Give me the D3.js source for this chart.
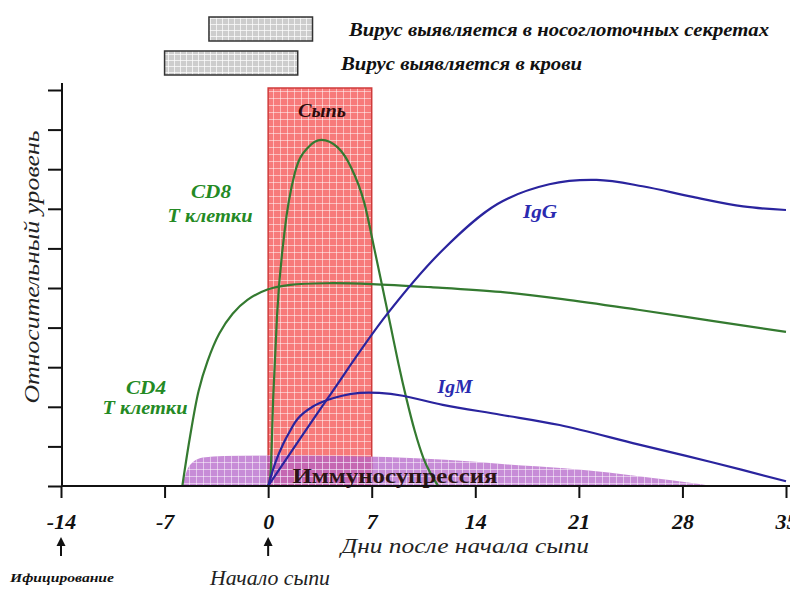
<!DOCTYPE html>
<html>
<head>
<meta charset="utf-8">
<script src="https://cdn.jsdelivr.net/npm/d3@7"></script>
<style>
  body { margin: 0; background: #fff; }
</style>
</head>
<body>
<div id="chart"></div>
<script>
// days after rash onset
const xTicks = [-14, -7, 0, 7, 14, 21, 28, 35]
const yTicks = [0, 1, 2, 3, 4, 5, 6, 7, 8, 9, 10]

// [day, relative level]
const cd8 = [[0, 0], [0.15, 0.25], [0.35, 2.3], [0.6, 4.3], [1.1, 6.4], [1.8, 7.9], [2.7, 8.55], [3.6, 8.74],
  [4.7, 8.55], [5.6, 8.05], [6.5, 7.15], [7.2, 5.95], [7.85, 4.8], [8.3, 4.0], [8.8, 3.1], [9.35, 2.2],
  [9.9, 1.4], [10.5, 0.7], [11.0, 0.3], [11.5, 0]]
const cd4 = [[-5.8, 0], [-5.3, 1.2], [-4.7, 2.4], [-4.1, 3.15], [-3.3, 3.85], [-2.4, 4.35], [-1.4, 4.7],
  [0, 4.97], [1.5, 5.08], [4, 5.12], [7, 5.1], [11, 5.02], [15.7, 4.9], [19.9, 4.72], [25, 4.45],
  [30, 4.17], [35, 3.89]]
const igg = [[0, 0], [4, 2.2], [8, 4.32], [11.8, 5.96], [15.5, 7.12], [19, 7.62], [22.2, 7.73],
  [25.3, 7.57], [28.7, 7.3], [32.1, 7.06], [35, 6.97]]
const igm = [[0, 0], [0.5, 0.6], [1, 1.05], [1.5, 1.4], [2, 1.7], [3, 2.0], [4, 2.17], [5, 2.28], [6.2, 2.35],
  [7.5, 2.35], [9.1, 2.28], [11.8, 2.05], [15.7, 1.8], [19.7, 1.54], [25, 1.05], [30, 0.6], [35, 0.12]]
const immuno = [[-5.8, 0], [-5.5, 0.38], [-5.1, 0.6], [-4.4, 0.72], [-3, 0.76], [0, 0.77], [5, 0.76],
  [8, 0.73], [12, 0.66], [16, 0.55], [20, 0.45], [23, 0.34], [26, 0.2], [28.5, 0.08], [30, 0]]

const rashDays = [0, 7]
const virusNasal = [-4, 3]
const virusBlood = [-7, 2]

const width = 790
const height = 590
const serif = '"Liberation Serif"'

const xScale = d3.scaleLinear().domain([-14, 35]).range([61, 786])
const yScale = d3.scaleLinear().domain([0, 10]).range([486, 90])

const svg = d3.select("#chart")
    .append("svg")
    .attr("width", width)
    .attr("height", height)
    .attr("font-family", serif)

function label(x, y, t, opts) {
    const el = svg.append("text").attr("x", x).attr("y", y)
        .attr("font-family", serif)
        .attr("font-size", opts.size)
        .attr("font-style", opts.italic ? "italic" : "normal")
        .attr("font-weight", opts.bold ? "bold" : "normal")
        .attr("text-anchor", opts.anchor || "start")
        .attr("fill", opts.color || "#111")
        .text(t)
    if (opts.len) el.attr("textLength", opts.len).attr("lengthAdjust", "spacingAndGlyphs")
    return el
}

// grid patterns
const defs = svg.append("defs")
function gridPattern(id, size, opacity) {
    const p = defs.append("pattern")
        .attr("id", id)
        .attr("width", size)
        .attr("height", size)
        .attr("patternUnits", "userSpaceOnUse")
    p.append("path")
        .attr("d", `M0,0.5H${size}M0.5,0V${size}`)
        .attr("stroke", "#fff")
        .attr("stroke-opacity", opacity)
        .attr("stroke-width", 1)
}
gridPattern("grid", 7, 0.5)
gridPattern("gridGray", 6, 0.7)

// virus bars at top
const bars = [
    { span: virusNasal, y: 17, text: "Вирус выявляется в носоглоточных секретах", lx: 349, ly: 36, len: 420 },
    { span: virusBlood, y: 51, text: "Вирус выявляется в крови", lx: 341, ly: 70, len: 241 }
]
bars.forEach(b => {
    const x0 = xScale(b.span[0]), x1 = xScale(b.span[1])
    svg.append("rect").attr("x", x0).attr("y", b.y).attr("width", x1 - x0).attr("height", 24)
        .attr("fill", "#cdcdcd")
    svg.append("rect").attr("x", x0).attr("y", b.y).attr("width", x1 - x0).attr("height", 24)
        .attr("fill", "url(#gridGray)").attr("stroke", "#333").attr("stroke-width", 1.5)
    label(b.lx, b.ly, b.text, { size: 18, italic: true, bold: true, len: b.len })
})

// rash
const rx0 = xScale(rashDays[0]), rx1 = xScale(rashDays[1])
svg.append("rect").attr("x", rx0).attr("y", yScale(10) - 2).attr("width", rx1 - rx0)
    .attr("height", yScale(0) - yScale(10) + 2).attr("fill", "#f77a7a")
svg.append("rect").attr("x", rx0).attr("y", yScale(10) - 2).attr("width", rx1 - rx0)
    .attr("height", yScale(0) - yScale(10) + 2).attr("fill", "url(#grid)")
    .attr("stroke", "#cf3b3b").attr("stroke-width", 1.5)
label((rx0 + rx1) / 2 + 2, 117, "Сыпь", { size: 19, italic: true, bold: true, anchor: "middle", color: "#2e0c0c", len: 48 })

// immunosuppression area
const area = d3.area()
    .x(d => xScale(d[0]))
    .y0(yScale(0))
    .y1(d => yScale(d[1]))
    .curve(d3.curveMonotoneX)
svg.append("path").datum(immuno).attr("d", area)
    .attr("fill", "#b160c8").attr("fill-opacity", 0.72)
svg.append("path").datum(immuno).attr("d", area)
    .attr("fill", "url(#grid)")

// curves
const lineMono = d3.line()
    .x(d => xScale(d[0]))
    .y(d => yScale(d[1]))
    .curve(d3.curveMonotoneX)
const lineSmooth = d3.line()
    .x(d => xScale(d[0]))
    .y(d => yScale(d[1]))
    .curve(d3.curveCatmullRom.alpha(0.5))

const green = "#347a30"
const blue = "#2a249e"
const series = [
    { data: cd4, color: green, gen: lineSmooth },
    { data: cd8, color: green, gen: lineMono },
    { data: igm, color: blue, gen: lineSmooth },
    { data: igg, color: blue, gen: lineSmooth }
]
series.forEach(s => {
    svg.append("path").datum(s.data).attr("d", s.gen)
        .attr("fill", "none").attr("stroke", s.color).attr("stroke-width", 2.2)
})

label(395, 483, "Иммуносупрессия", { size: 22, bold: true, anchor: "middle", color: "#2b1414", len: 205 })

// series labels
const textGreen = "#248a24"
const textBlue = "#2a2ab0"
label(211, 198, "CD8", { size: 19, italic: true, bold: true, anchor: "middle", color: textGreen, len: 40 })
label(210, 222, "Т клетки", { size: 19, italic: true, bold: true, anchor: "middle", color: textGreen, len: 85 })
label(146, 394, "CD4", { size: 19, italic: true, bold: true, anchor: "middle", color: textGreen, len: 40 })
label(145, 414, "Т клетки", { size: 19, italic: true, bold: true, anchor: "middle", color: textGreen, len: 85 })
label(540, 218, "IgG", { size: 19, italic: true, bold: true, anchor: "middle", color: textBlue, len: 34 })
label(455, 393, "IgM", { size: 19, italic: true, bold: true, anchor: "middle", color: textBlue, len: 35 })

// axes
const xAxis = d3.axisBottom(xScale).tickValues(xTicks).tickSize(12).tickSizeOuter(0).tickPadding(15)
    .tickFormat(d => String(d))
const gx = svg.append("g").attr("transform", `translate(0, ${yScale(0)})`).call(xAxis)
gx.attr("font-family", serif)
gx.select(".domain").attr("d", `M${xScale(-14)},0H790`)
gx.selectAll("line, path").attr("stroke", "#111").attr("stroke-width", 2)
gx.selectAll("text")
    .attr("font-family", serif)
    .attr("font-size", 22).attr("font-style", "italic").attr("font-weight", "bold")
    .attr("fill", "#111")

const yAxis = d3.axisLeft(yScale).tickValues(yTicks).tickSize(14).tickSizeOuter(0).tickFormat("")
const gy = svg.append("g").attr("transform", `translate(${xScale(-14) + 1}, 0)`).call(yAxis)
gy.select(".domain").attr("d", `M0,${yScale(0) + 1}V${yScale(10) - 7}`)
gy.selectAll("line, path").attr("stroke", "#111").attr("stroke-width", 2)

label(0, 0, "Относительный уровень", { size: 22, italic: true, anchor: "middle", color: "#222", len: 273 })
    .attr("transform", "translate(39, 267) rotate(-90)")

label(465, 553, "Дни после начала сыпи", { size: 22, italic: true, anchor: "middle", color: "#222", len: 248 })

// arrows
;[-14, 0].forEach(d => {
    const ax = xScale(d)
    svg.append("line").attr("x1", ax).attr("x2", ax).attr("y1", 544).attr("y2", 556)
        .attr("stroke", "#111").attr("stroke-width", 2)
    svg.append("path").attr("d", `M${ax - 4.5},546L${ax},537L${ax + 4.5},546Z`).attr("fill", "#111")
})

label(62, 582, "Ифицирование", { size: 13, italic: true, bold: true, anchor: "middle", len: 104 })
label(270, 585, "Начало сыпи", { size: 22, italic: true, anchor: "middle", color: "#222", len: 120 })
</script>
</body>
</html>
